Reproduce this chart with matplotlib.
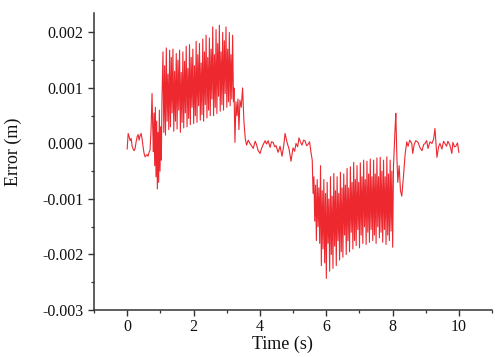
import matplotlib
matplotlib.use("Agg")
import matplotlib.pyplot as plt
from matplotlib.ticker import MultipleLocator

# ---- data (error in units of 1e-4 m) ----
t_pre = [0.00, 0.03, 0.06, 0.09, 0.12, 0.15, 0.18, 0.21, 0.24, 0.27, 0.30, 0.33,
         0.36, 0.39, 0.42, 0.45, 0.48, 0.51, 0.54, 0.57, 0.60, 0.63, 0.66, 0.69,
         0.72, 0.75, 0.77, 0.79, 0.81, 0.83, 0.85, 0.87, 0.89, 0.91, 0.93, 0.95,
         0.97, 0.99, 1.01, 1.03, 1.05]
e_pre = [-1.0, 1.8, 1.2, 0.5, 0.9, -0.5, -1.0, -1.3, -0.9, 0.3, 1.2, 1.6,
         0.6, 1.4, 1.8, 0.8, -0.6, -1.8, -2.4, -2.2, -2.0, -2.3, -1.6, -1.2,
         2.5, 9.0, 3.0, -1.5, 5.5, -4.0, 6.5, -6.0, 4.0, -8.2, 2.0, -7.0,
         6.0, -5.0, 3.0, -3.0, 8.0]

t_burst1 = [1.080, 1.105, 1.130, 1.155, 1.180, 1.205, 1.230, 1.255, 1.280, 1.305,
            1.330, 1.355, 1.380, 1.405, 1.430, 1.455, 1.480, 1.505, 1.530, 1.555,
            1.580, 1.605, 1.630, 1.655, 1.680, 1.705, 1.730, 1.755, 1.780, 1.805,
            1.830, 1.855, 1.880, 1.905, 1.930, 1.955, 1.980, 2.005, 2.030, 2.055,
            2.080, 2.105, 2.130, 2.155, 2.180, 2.205, 2.230, 2.255, 2.280, 2.305,
            2.330, 2.355, 2.380, 2.405, 2.430, 2.455, 2.480, 2.505, 2.530, 2.555,
            2.580, 2.605, 2.630, 2.655, 2.680, 2.705, 2.730, 2.755, 2.780, 2.805,
            2.830, 2.855, 2.880, 2.905, 2.930, 2.955, 2.980, 3.005, 3.030, 3.055,
            3.080, 3.105, 3.130, 3.155, 3.180, 3.205]
e_burst1 = [16.5, 2.0, 14.0, 1.5, 17.2, 4.0, 12.5, 2.5, 16.8, 3.0,
            15.5, 5.5, 17.0, 2.2, 13.0, 4.0, 16.2, 2.6, 15.0, 6.0,
            16.8, 2.0, 12.8, 3.8, 16.5, 2.8, 14.8, 5.5, 17.5, 3.0,
            13.5, 4.5, 17.8, 3.4, 15.5, 6.5, 17.0, 3.6, 14.0, 5.0,
            18.4, 3.8, 16.0, 6.8, 18.0, 4.2, 14.5, 5.2, 18.8, 4.0,
            16.5, 7.0, 19.5, 4.6, 15.5, 6.0, 19.0, 5.0, 17.0, 8.0,
            21.0, 5.0, 16.0, 6.5, 20.5, 5.4, 18.0, 8.5, 21.3, 5.8,
            16.5, 7.0, 20.0, 6.0, 18.5, 9.0, 21.0, 6.5, 17.0, 7.5,
            20.0, 6.8, 16.0, 8.0, 19.5, 7.5]

t_mid = [3.22, 3.25, 3.28, 3.31, 3.34, 3.37, 3.40, 3.44, 3.48, 3.52, 3.56, 3.60,
         3.65, 3.70, 3.75, 3.80, 3.86, 3.90, 3.95, 4.01, 4.05, 4.10, 4.16, 4.20,
         4.25, 4.31, 4.35, 4.40, 4.45, 4.49, 4.55, 4.61, 4.67, 4.72, 4.76, 4.82,
         4.88, 4.94, 5.00, 5.05, 5.09, 5.14, 5.18, 5.23, 5.27, 5.32, 5.36, 5.41,
         5.45, 5.50, 5.54]
e_mid = [10.0, 0.2, 7.5, 5.0, 8.0, 2.5, 7.8, 6.5, 10.0, 4.0, 0.9, -0.3,
         0.6, 0.0, -0.4, -0.9, 0.4, -0.2, -1.3, -1.8, -0.9, -0.2, 0.5, -0.1,
         0.5, -0.7, 0.3, 0.2, -0.6, -0.4, -1.6, -0.5, -2.3, -0.4, 1.8, 0.2,
         -1.0, -3.2, -0.8, -1.4, 0.0, -0.6, 1.0, 0.2, -0.3, 0.6, 0.5, -0.4,
         -0.2, 0.3, -1.5]

t_burst2 = [5.580, 5.605, 5.630, 5.655, 5.680, 5.705, 5.730, 5.755, 5.780, 5.805,
            5.830, 5.855, 5.880, 5.905, 5.930, 5.955, 5.980, 6.005, 6.030, 6.055,
            6.080, 6.105, 6.130, 6.155, 6.180, 6.205, 6.230, 6.255, 6.280, 6.305,
            6.330, 6.355, 6.380, 6.405, 6.430, 6.455, 6.480, 6.505, 6.530, 6.555,
            6.580, 6.605, 6.630, 6.655, 6.680, 6.705, 6.730, 6.755, 6.780, 6.805,
            6.830, 6.855, 6.880, 6.905, 6.930, 6.955, 6.980, 7.005, 7.030, 7.055,
            7.080, 7.105, 7.130, 7.155, 7.180, 7.205, 7.230, 7.255, 7.280, 7.305,
            7.330, 7.355, 7.380, 7.405, 7.430, 7.455, 7.480, 7.505, 7.530, 7.555,
            7.580, 7.605, 7.630, 7.655, 7.680, 7.705, 7.730, 7.755, 7.780, 7.805,
            7.830, 7.855, 7.880, 7.905, 7.930, 7.955, 7.980, 8.005, 8.030]
e_burst2 = [-3.0, -9.0, -6.0, -14.0, -7.5, -17.5, -6.5, -15.0, -8.0, -18.0,
            -4.0, -22.0, -8.5, -19.0, -6.5, -21.5, -9.0, -24.3, -7.0, -18.0,
            -10.0, -23.0, -6.0, -20.0, -9.5, -22.5, -5.4, -18.5, -8.5, -22.0,
            -6.0, -17.5, -9.0, -21.0, -5.2, -19.5, -8.0, -20.5, -5.5, -16.5,
            -7.5, -20.0, -4.5, -17.5, -8.0, -19.5, -4.2, -16.0, -7.0, -19.0,
            -3.4, -17.5, -6.5, -18.4, -4.0, -15.5, -7.0, -18.8, -3.5, -16.5,
            -6.0, -18.0, -3.0, -15.0, -6.5, -18.2, -3.2, -16.0, -5.5, -17.8,
            -2.8, -15.5, -6.0, -17.5, -3.0, -16.5, -5.5, -18.0, -2.6, -15.0,
            -6.0, -17.0, -2.5, -16.0, -5.0, -17.8, -3.0, -15.5, -6.0, -18.2,
            -2.4, -16.5, -5.5, -17.5, -3.0, -15.8, -5.0, -18.7, -4.0]

t_post = [8.05, 8.08, 8.10, 8.13, 8.16, 8.20, 8.24, 8.28, 8.33, 8.38, 8.43, 8.47,
          8.52, 8.58, 8.61, 8.65, 8.70, 8.77, 8.83, 8.89, 8.94, 8.98, 9.03, 9.07,
          9.13, 9.19, 9.24, 9.28, 9.34, 9.39, 9.43, 9.49, 9.54, 9.58, 9.63, 9.67,
          9.73, 9.79, 9.82, 9.87, 9.91, 9.96, 10.00]
e_post = [-1.0, 3.0, 5.4, -2.0, -7.0, -4.0, -8.5, -9.5, -6.0, -2.0, 0.3, -0.5,
          0.6, 0.0, -1.8, -0.3, 0.5, 0.2, -0.8, -1.3, -0.2, 0.0, 0.5, -0.9,
          0.3, 0.0, 0.8, 2.7, -2.5, -0.6, 0.0, -1.0, 0.4, 0.0, -0.5, 0.4,
          -0.3, -1.8, 0.2, -0.6, -0.5, 0.1, -1.6]

x_ticks = [0, 2, 4, 6, 8, 10]
x_ticklabels = ["0", "2", "4", "6", "8", "10"]
y_ticks = [-0.003, -0.002, -0.001, 0.000, 0.001, 0.002]
y_ticklabels = ["-0.003", "-0.002", "-0.001", "0.000", "0.001", "0.002"]

for tt, ee in ((t_pre, e_pre), (t_burst1, e_burst1), (t_mid, e_mid),
               (t_burst2, e_burst2), (t_post, e_post)):
    assert len(tt) == len(ee), (len(tt), len(ee))

time = t_pre + t_burst1 + t_mid + t_burst2 + t_post
err = [v * 1e-4 for v in (e_pre + e_burst1 + e_mid + e_burst2 + e_post)]

plt.rcParams['font.family'] = ['Liberation Serif', 'DejaVu Serif']

fig = plt.figure(figsize=(4.96, 3.57), dpi=100)
ax = fig.add_axes([94/496, 1 - 310/357, 398/496, 297/357])

ax.plot(time, err, color='#ec1c24', lw=0.8, alpha=0.95)

ax.set_xlim(-1, 11)
ax.set_ylim(-0.003, 0.00235)

ax.spines['top'].set_visible(False)
ax.spines['right'].set_visible(False)
for s in ('left', 'bottom'):
    ax.spines[s].set_color('#333333')
    ax.spines[s].set_linewidth(1.1)

ax.set_xticks(x_ticks)
ax.set_xticklabels(x_ticklabels)
ax.set_yticks(y_ticks)
ax.set_yticklabels(y_ticklabels)
ax.xaxis.set_minor_locator(MultipleLocator(1))
ax.yaxis.set_minor_locator(MultipleLocator(0.0005))
ax.tick_params(which='major', direction='out', length=4.5, width=1.0,
               color='#333333', labelsize=11.5, labelcolor='#111111')
ax.tick_params(which='minor', direction='out', length=2.5, width=0.9, color='#333333')
ax.tick_params(axis='y', which='major', pad=3)
ax.tick_params(axis='x', which='major', pad=2)

ax.set_xlabel("Time (s)", fontsize=13, color='#111111')
ax.set_ylabel("Error (m)", fontsize=13, color='#111111')
ax.xaxis.set_label_coords((282 - 94) / 398, -0.085)
ax.yaxis.set_label_coords((22 - 94) / 398, (310 - 152) / 297)

fig.savefig("out.png", dpi=100)
